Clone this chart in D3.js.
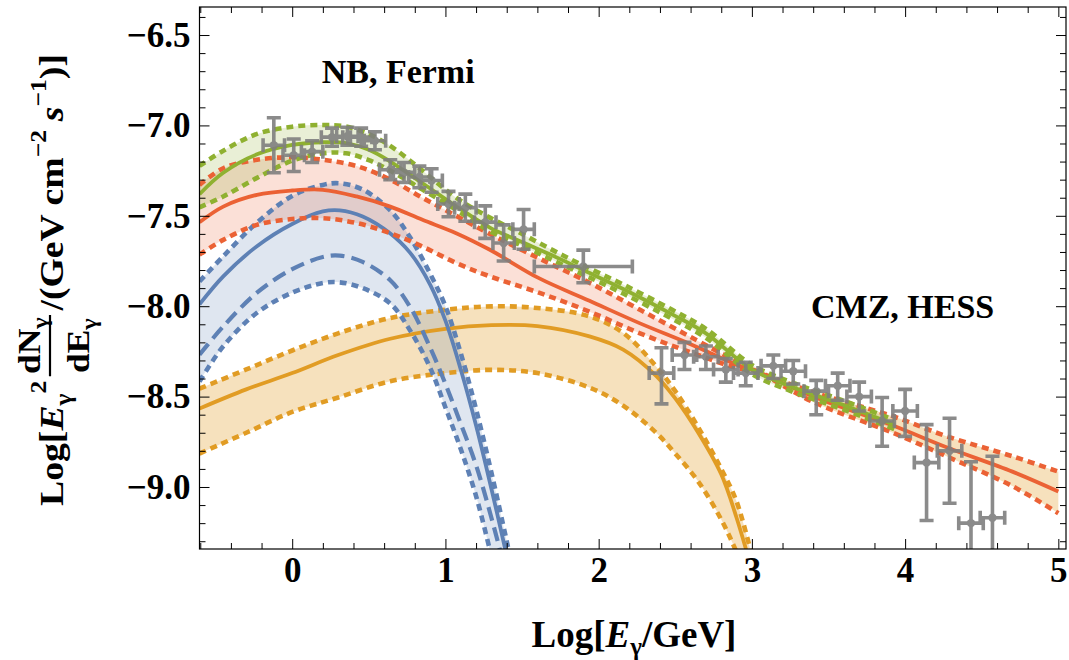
<!DOCTYPE html>
<html><head><meta charset="utf-8">
<script src="https://cdn.jsdelivr.net/npm/d3@7"></script>
<style>
body{margin:0;background:#fff}
svg{display:block}
text{font-family:"Liberation Serif","Times New Roman",serif;font-weight:bold;fill:#000}
</style>
</head><body>
<svg id="c" width="1069" height="660"></svg>
<script>
// ---------------- DATA ----------------
// Green band (NB, Fermi model)
const greenX  = [-0.605,-0.45,-0.23,0,0.2,0.35,0.5,0.64,0.85,1.07,1.29,1.5,1.7,1.9,2.16,2.48,2.7,3.0,3.25,3.4,3.62,3.93];
const greenY  = [-7.38,-7.262,-7.16,-7.108,-7.093,-7.098,-7.135,-7.2,-7.32,-7.447,-7.565,-7.645,-7.72,-7.80,-7.905,-8.045,-8.15,-8.35,-8.443,-8.489,-8.554,-8.655];
const greenHi = [-7.224,-7.14,-7.047,-7.007,-6.998,-7.006,-7.048,-7.113,-7.25,-7.40,-7.51,-7.60,-7.69,-7.775,-7.88,-8.02,-8.125,-8.325,-8.418,-8.464,-8.529,-8.63];
const greenLo = [-7.453,-7.393,-7.29,-7.195,-7.154,-7.154,-7.192,-7.25,-7.355,-7.467,-7.585,-7.665,-7.745,-7.825,-7.93,-8.07,-8.175,-8.375,-8.468,-8.514,-8.579,-8.68];

// Red band, low-energy part (x <= 3)
const redX  = [-0.605,-0.45,-0.23,0,0.2,0.42,0.64,0.85,1.07,1.29,1.61,1.94,2.27,2.6,2.92,3.0];
const redY  = [-7.536,-7.449,-7.384,-7.36,-7.356,-7.393,-7.449,-7.522,-7.596,-7.688,-7.845,-7.97,-8.095,-8.21,-8.33,-8.35];
const redHi = [-7.329,-7.237,-7.19,-7.176,-7.19,-7.225,-7.30,-7.40,-7.50,-7.60,-7.735,-7.87,-8.02,-8.17,-8.315,-8.35];
const redLo = [-7.715,-7.633,-7.55,-7.518,-7.513,-7.54,-7.596,-7.67,-7.761,-7.835,-7.925,-8.03,-8.15,-8.255,-8.345,-8.35];
// Red band, high-energy part (x >= 3)
const red2X  = [3.0,3.4,3.92,4.27,4.7,5.0];
const red2Y  = [-8.35,-8.50,-8.66,-8.78,-8.915,-9.025];
const red2Hi = [-8.35,-8.475,-8.609,-8.719,-8.83,-8.915];
const red2Lo = [-8.35,-8.53,-8.70,-8.83,-8.995,-9.145];

// Blue band
const blueX    = [-0.605,-0.45,-0.23,0,0.2,0.31,0.46,0.64,0.77,0.9,1.0,1.1,1.2,1.3,1.4,1.45];
const blueY    = [-7.99,-7.835,-7.668,-7.545,-7.476,-7.47,-7.504,-7.598,-7.705,-7.88,-8.08,-8.35,-8.66,-9.01,-9.38,-9.58];
const blueHi   = [-7.863,-7.724,-7.538,-7.39,-7.329,-7.32,-7.355,-7.47,-7.62,-7.82,-8.0,-8.26,-8.57,-8.92,-9.3,-9.5];
const blueDash = [-8.268,-8.112,-7.925,-7.795,-7.728,-7.72,-7.755,-7.857,-8.005,-8.228,-8.43,-8.65,-8.88,-9.17,-9.5,-9.7];
const blueLo   = [-8.417,-8.222,-8.036,-7.925,-7.872,-7.868,-7.9,-7.985,-8.135,-8.34,-8.56,-8.79,-9.05,-9.38,-9.7,-9.9];

// Orange band
const orangeX  = [-0.605,-0.3,0,0.3,0.64,1.0,1.3,1.6,1.94,2.16,2.375,2.5,2.65,2.8,2.9,3.0];
const orangeY  = [-8.566,-8.46,-8.37,-8.27,-8.18,-8.125,-8.105,-8.11,-8.167,-8.24,-8.385,-8.51,-8.70,-8.93,-9.17,-9.46];
const orangeHi = [-8.456,-8.35,-8.245,-8.15,-8.065,-8.02,-8.001,-8.01,-8.056,-8.148,-8.333,-8.47,-8.67,-8.90,-9.08,-9.38];
const orangeLo = [-8.815,-8.70,-8.585,-8.505,-8.415,-8.37,-8.352,-8.37,-8.45,-8.55,-8.70,-8.815,-8.97,-9.18,-9.36,-9.56];

// Data points: Fermi (NB)
const fermiX    = [-0.12,0.01,0.13,0.26,0.36,0.45,0.54,0.64,0.73,0.83,0.91,1.02,1.13,1.26,1.38,1.51,1.9];
const fermiY    = [-7.11,-7.165,-7.145,-7.065,-7.06,-7.065,-7.085,-7.245,-7.26,-7.285,-7.305,-7.435,-7.455,-7.535,-7.65,-7.575,-7.78];
const fermiXErr = [0.07,0.07,0.07,0.07,0.07,0.07,0.07,0.07,0.07,0.07,0.07,0.07,0.07,0.07,0.07,0.07,0.32];
const fermiYErr = [0.152,0.09,0.06,0.05,0.05,0.05,0.05,0.055,0.055,0.06,0.065,0.07,0.075,0.09,0.1,0.11,0.09];

// Data points: HESS (CMZ)
const hessX    = [2.41,2.56,2.70,2.83,2.96,3.14,3.27,3.42,3.56,3.70,3.85,4.00,4.14,4.29,4.43,4.57];
const hessY    = [-8.37,-8.27,-8.28,-8.35,-8.37,-8.33,-8.36,-8.47,-8.44,-8.50,-8.635,-8.58,-8.865,-8.80,-9.20,-9.17];
const hessYHi  = [0.14,0.07,0.06,0.06,0.06,0.06,0.06,0.06,0.07,0.08,0.13,0.12,0.21,0.18,0.34,0.34];
const hessYLo  = [0.17,0.08,0.07,0.07,0.07,0.07,0.07,0.13,0.08,0.08,0.14,0.14,0.32,0.29,0.5,0.5];
const hessXErr = [0.08,0.08,0.08,0.08,0.08,0.08,0.08,0.08,0.08,0.08,0.08,0.08,0.08,0.08,0.08,0.08];

// Ticks
const xTickValues = [0,1,2,3,4,5];
const xTickLabels = ["0","1","2","3","4","5"];
const yTickValues = [-9.0,-8.5,-8.0,-7.5,-7.0,-6.5];
const yTickLabels = ["\u22129.0","\u22128.5","\u22128.0","\u22127.5","\u22127.0","\u22126.5"];

// ---------------- CHART ----------------
const L = 199.5, R = 1066, T = 7, B = 549;
const svg = d3.select("#c");
const x = d3.scaleLinear().domain([-0.605, 5.05]).range([L, R]);
const y = d3.scaleLinear().domain([-9.343, -6.345]).range([B, T]);

const C = {blue:"#5E81B5", orange:"#E19C24", green:"#8FB131", red:"#EB6235"};

svg.append("clipPath").attr("id","clip").append("rect")
  .attr("x",L).attr("y",T).attr("width",R-L).attr("height",B-T);
const plot = svg.append("g").attr("clip-path","url(#clip)");

const line = d3.line().x(d=>x(d[0])).y(d=>y(d[1])).curve(d3.curveCatmullRom.alpha(0.5));
const zip = (xs, ys) => xs.map((v,i)=>[v, ys[i]]);
function bandPath(xs, hi, lo){
  const up = zip(xs, hi), dn = zip(xs, lo).reverse();
  return line(up) + line(dn).replace(/^M/, "L") + "Z";
}

// fills
plot.append("path").attr("d", bandPath(orangeX, orangeHi, orangeLo)).attr("fill", C.orange).attr("fill-opacity",0.3);
plot.append("path").attr("d", bandPath(blueX, blueHi, blueLo)).attr("fill", C.blue).attr("fill-opacity",0.2);
plot.append("path").attr("d", bandPath(redX, redHi, redLo)).attr("fill", C.red).attr("fill-opacity",0.2);
plot.append("path").attr("d", bandPath(red2X, red2Hi, red2Lo)).attr("fill", C.orange).attr("fill-opacity",0.3);
plot.append("path").attr("d", bandPath(greenX, greenHi, greenLo)).attr("fill", C.green).attr("fill-opacity",0.2);

function curve(xs, ys, color, style){
  const p = plot.append("path").attr("d", line(zip(xs, ys))).attr("fill","none")
    .attr("stroke", color);
  if (style === "dot") p.attr("stroke-width",4.6).attr("stroke-dasharray","7 5");
  else if (style === "dash") p.attr("stroke-width",4.2).attr("stroke-dasharray","14 7");
  else p.attr("stroke-width",3.8);
}
// orange
curve(orangeX, orangeHi, C.orange, "dot");
curve(orangeX, orangeLo, C.orange, "dot");
curve(orangeX, orangeY, C.orange, "solid");
// blue
curve(blueX, blueHi, C.blue, "dot");
curve(blueX, blueLo, C.blue, "dot");
curve(blueX, blueDash, C.blue, "dash");
curve(blueX, blueY, C.blue, "solid");
// red (two parts joined)
const redAllX = redX.concat(red2X.slice(1));
curve(redAllX, redHi.concat(red2Hi.slice(1)), C.red, "dot");
curve(redAllX, redLo.concat(red2Lo.slice(1)), C.red, "dot");
curve(redAllX, redY.concat(red2Y.slice(1)), C.red, "solid");
// green
curve(greenX, greenHi, C.green, "dot");
curve(greenX, greenLo, C.green, "dot");
curve(greenX, greenY, C.green, "solid");

// error bars
const gray = "#7f7f7f";
const pts = plot.append("g").attr("stroke", gray).attr("fill", gray).attr("stroke-width",3.6).attr("opacity",0.9);
function errPoint(px, py, exl, exh, eyl, eyh){
  const cx = x(px), cy = y(py);
  const x0 = x(px-exl), x1 = x(px+exh), y0 = y(py-eyl), y1 = y(py+eyh);
  const c = 7;
  const d = `M${x0},${cy}H${x1}M${x0},${cy-c}V${cy+c}M${x1},${cy-c}V${cy+c}` +
            `M${cx},${y0}V${y1}M${cx-c},${y0}H${cx+c}M${cx-c},${y1}H${cx+c}`;
  pts.append("path").attr("d", d).attr("fill","none");
  pts.append("circle").attr("cx",cx).attr("cy",cy).attr("r",4.2).attr("stroke","none");
}
fermiX.forEach((v,i)=>errPoint(v, fermiY[i], fermiXErr[i], fermiXErr[i], fermiYErr[i], fermiYErr[i]));
hessX.forEach((v,i)=>errPoint(v, hessY[i], hessXErr[i], hessXErr[i], hessYLo[i], hessYHi[i]));

// ---------------- AXES / FRAME ----------------
function minors(a, b, step, majorStep){
  const out = [];
  for (let k = Math.round(a/step); k*step <= b + 1e-9; k++){
    const v = +(k*step).toFixed(4);
    if (Math.abs(v/majorStep - Math.round(v/majorStep)) > 1e-6) out.push(v);
  }
  return out;
}
const xMinor = minors(-0.6, 5.0, 0.2, 1);
const yMinor = minors(-9.3, -6.4, 0.1, 0.5);

function styleAxis(g){
  g.select(".domain").remove();
  g.selectAll("line").attr("stroke","#000").attr("stroke-width",1);
  g.selectAll("text").attr("font-family",'"Liberation Serif","Times New Roman",serif')
    .attr("font-weight","bold").attr("font-size",35).attr("fill","#000");
}
// bottom
svg.append("g").attr("transform",`translate(0,${B})`)
  .call(d3.axisBottom(x).tickValues(xTickValues).tickFormat((d,i)=>xTickLabels[i]).tickSizeInner(-10).tickSizeOuter(0).tickPadding(8))
  .call(styleAxis);
svg.append("g").attr("transform",`translate(0,${B})`)
  .call(d3.axisBottom(x).tickValues(xMinor).tickFormat("").tickSizeInner(-6).tickSizeOuter(0)).call(styleAxis);
// top
svg.append("g").attr("transform",`translate(0,${T})`)
  .call(d3.axisTop(x).tickValues(xTickValues).tickFormat("").tickSizeInner(-10).tickSizeOuter(0)).call(styleAxis);
svg.append("g").attr("transform",`translate(0,${T})`)
  .call(d3.axisTop(x).tickValues(xMinor).tickFormat("").tickSizeInner(-6).tickSizeOuter(0)).call(styleAxis);
// left
svg.append("g").attr("transform",`translate(${L},0)`)
  .call(d3.axisLeft(y).tickValues(yTickValues).tickFormat((d,i)=>yTickLabels[i]).tickSizeInner(-10).tickSizeOuter(0).tickPadding(9))
  .call(styleAxis);
svg.append("g").attr("transform",`translate(${L},0)`)
  .call(d3.axisLeft(y).tickValues(yMinor).tickFormat("").tickSizeInner(-6).tickSizeOuter(0)).call(styleAxis);
// right
svg.append("g").attr("transform",`translate(${R},0)`)
  .call(d3.axisRight(y).tickValues(yTickValues).tickFormat("").tickSizeInner(-10).tickSizeOuter(0)).call(styleAxis);
svg.append("g").attr("transform",`translate(${R},0)`)
  .call(d3.axisRight(y).tickValues(yMinor).tickFormat("").tickSizeInner(-6).tickSizeOuter(0)).call(styleAxis);

svg.append("rect").attr("x",L).attr("y",T).attr("width",R-L).attr("height",B-T)
  .attr("fill","none").attr("stroke","#000").attr("stroke-width",1.2);

// ---------------- TEXT ----------------
svg.append("text").attr("x",321.7).attr("y",83).attr("font-size",34).text("NB, Fermi");
svg.append("text").attr("x",811).attr("y",318).attr("font-size",34).text("CMZ, HESS");

// x title
const xt = svg.append("text").attr("x",634).attr("y",647).attr("text-anchor","middle").attr("font-size",37);
xt.append("tspan").text("Log[");
xt.append("tspan").attr("font-style","italic").text("E");
xt.append("tspan").attr("font-size",25).attr("dy",8).text("\u03b3");
xt.append("tspan").attr("font-size",37).attr("dy",-8).text("/GeV]");

// y title
(function(){
  const g = svg.append("g").attr("transform","translate(63,506) rotate(-90)");
  const inner = g.append("g");
  let cx = 0;
  function piece(txt, o){
    o = o || {};
    const px = (o.x !== undefined) ? o.x : cx;
    const t = inner.append("text").attr("x", px).attr("y", o.y || 0)
      .attr("font-size", o.size || 34).text(txt);
    if (o.italic) t.attr("font-style","italic");
    const w = t.node().getComputedTextLength();
    if (!o.noAdvance) cx = px + w;
    return {t, w};
  }
  piece("Log[");
  piece("E", {italic:true});
  piece("\u03b3", {size:23, y:8});
  piece("2", {size:23, y:-17});
  cx += 4;
  const fx = cx;
  const n1 = piece("dN", {size:32, y:-23, x:0, noAdvance:true});
  const n2 = piece("\u03b3", {size:22, y:-16, x:0, noAdvance:true});
  const d1 = piece("dE", {size:32, y:26, x:0, noAdvance:true});
  const d2 = piece("\u03b3", {size:22, y:33, x:0, noAdvance:true});
  const nw = n1.w + n2.w, dw = d1.w + d2.w, fw = Math.max(nw, dw) + 4;
  n1.t.attr("x", fx + (fw-nw)/2); n2.t.attr("x", fx + (fw-nw)/2 + n1.w);
  d1.t.attr("x", fx + (fw-dw)/2); d2.t.attr("x", fx + (fw-dw)/2 + d1.w);
  inner.append("line").attr("x1",fx).attr("x2",fx+fw).attr("y1",-13).attr("y2",-13)
    .attr("stroke","#000").attr("stroke-width",2.2);
  cx = fx + fw + 4;
  piece("/(GeV cm");
  piece("\u22122", {size:23, y:-17});
  cx += 8;
  piece("s", {italic:true});
  piece("\u22121", {size:23, y:-17});
  piece(")]");
  inner.attr("transform", `scale(${452/cx},1)`);
})();
</script>
</body></html>
